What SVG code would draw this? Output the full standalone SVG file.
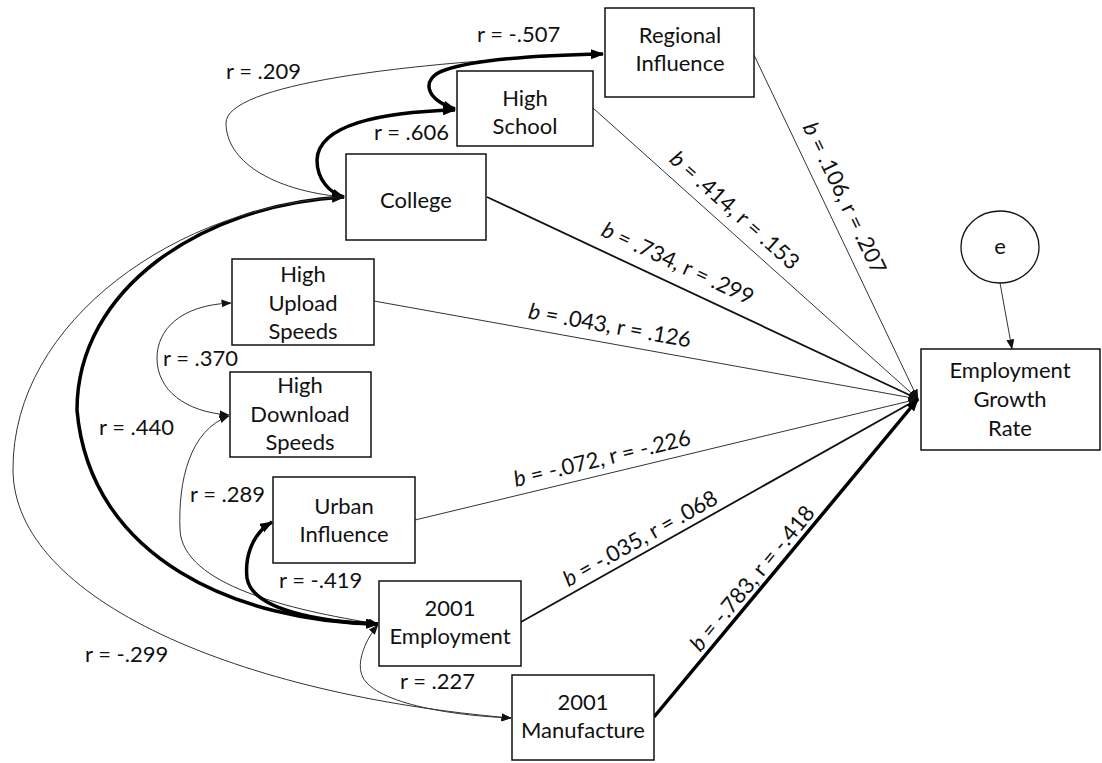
<svg xmlns="http://www.w3.org/2000/svg" width="1102" height="763" viewBox="0 0 1102 763">
<style>
text{font-family:Lato,"Open Sans","Liberation Sans",sans-serif;font-size:22px;fill:#111}
.nt{text-anchor:middle}
.box{fill:#fff;stroke:#111;stroke-width:1.5}
.thin{fill:none;stroke:#333;stroke-width:1}
.med{fill:none;stroke:#111;stroke-width:1.8}
.thick{fill:none;stroke:#000;stroke-width:3.5}
.lbl{text-anchor:middle}
</style>
<defs>
<marker id="aT" viewBox="0 0 10 8" refX="9.5" refY="4" markerWidth="10" markerHeight="8" markerUnits="userSpaceOnUse" orient="auto-start-reverse"><path d="M0,0 L10,4 L0,8 z" fill="#111"/></marker>
<marker id="aK" viewBox="0 0 13 10" refX="12" refY="5" markerWidth="13" markerHeight="10" markerUnits="userSpaceOnUse" orient="auto-start-reverse"><path d="M0,0 L13,5 L0,10 z" fill="#000"/></marker>
</defs>
<rect width="1102" height="763" fill="#fff"/>
<g id="connectors">
<path class="thin" d="M 343,197 C 270,190 226,160 226,123 C 226,85 400,62 603,54" marker-start="url(#aT)" marker-end="url(#aT)"/>
<path class="thick" d="M 455,109 C 425,100 420,78 445,70 C 480,58 550,55 603,54" marker-start="url(#aK)" marker-end="url(#aK)"/>
<path class="thick" d="M 455,110 C 380,112 318,125 317,160 C 317,180 330,193 344,197" marker-start="url(#aK)" marker-end="url(#aK)"/>
<path class="thick" d="M 344,197 C 200,205 77,290 77,410 C 90,560 240,622 378,624" marker-start="url(#aK)" marker-end="url(#aK)"/>
<path class="thin" d="M 344,197 C 180,205 12,320 13,470 C 14,600 240,695 511,718" marker-start="url(#aT)" marker-end="url(#aT)"/>
<path class="thin" d="M 231,303 C 180,305 157,330 157,358 C 157,390 185,412 229,415" marker-start="url(#aT)" marker-end="url(#aT)"/>
<path class="thin" d="M 229,416 C 190,430 178,480 180,530 C 183,585 290,610 378,624" marker-start="url(#aT)" marker-end="url(#aT)"/>
<path class="thick" d="M 272,522 C 250,535 245,560 247,578 C 252,610 320,622 378,624" marker-start="url(#aK)" marker-end="url(#aK)"/>
<path class="thin" d="M 378,625 C 365,640 358,660 361,672 C 366,700 440,715 511,718" marker-start="url(#aT)" marker-end="url(#aT)"/>
<line class="thin" x1="754" y1="55" x2="918" y2="399" marker-end="url(#aT)"/>
<line class="thin" x1="593" y1="108" x2="918" y2="399" marker-end="url(#aT)"/>
<line class="med" x1="487" y1="197" x2="918" y2="399" marker-end="url(#aT)"/>
<line class="thin" x1="374" y1="301" x2="918" y2="399" marker-end="url(#aT)"/>
<line class="thin" x1="415" y1="520" x2="918" y2="399" marker-end="url(#aT)"/>
<line class="med" x1="521" y1="622" x2="918" y2="399" marker-end="url(#aT)"/>
<line class="thick" x1="654" y1="717" x2="918" y2="399" marker-end="url(#aK)"/>
<line class="thin" x1="1000" y1="283" x2="1012" y2="349" marker-end="url(#aT)"/>
<text x="226" y="79">r = .209</text>
<text x="477" y="42">r = -.507</text>
<text x="374" y="140">r = .606</text>
<text x="163" y="366">r = .370</text>
<text x="99" y="435">r = .440</text>
<text x="190" y="502">r = .289</text>
<text x="279" y="588">r = -.419</text>
<text x="85" y="662">r = -.299</text>
<text x="400" y="689">r = .227</text>
<text class="lbl" transform="translate(845,198) rotate(64.5)" x="0" y="8"><tspan font-style="italic">b</tspan> = .106, r = .207</text>
<text class="lbl" transform="translate(735,210) rotate(41.8)" x="0" y="8"><tspan font-style="italic">b</tspan> = .414, r = .153</text>
<text class="lbl" transform="translate(678,263) rotate(25.1)" x="0" y="8"><tspan font-style="italic">b</tspan> = .734, r = .299</text>
<text class="lbl" transform="translate(610,325) rotate(10.2)" x="0" y="8"><tspan font-style="italic">b</tspan> = .043, r = .126</text>
<text class="lbl" transform="translate(602,458) rotate(-13.5)" x="0" y="8"><tspan font-style="italic">b</tspan> = -.072, r = -.226</text>
<text class="lbl" transform="translate(640,538) rotate(-29.3)" x="0" y="8"><tspan font-style="italic">b</tspan> = -.035, r = .068</text>
<text class="lbl" transform="translate(752,578) rotate(-50.3)" x="0" y="8"><tspan font-style="italic">b</tspan> = -.783, r = -.418</text>
</g>
<g id="regional"><rect class="box" x="605" y="8" width="149" height="89"/><text class="nt" x="680" y="43">Regional</text><text class="nt" x="680" y="71">Influence</text></g>
<g id="highschool"><rect class="box" x="457" y="71" width="136" height="75"/><text class="nt" x="525" y="106">High</text><text class="nt" x="525" y="134">School</text></g>
<g id="college"><rect class="box" x="346" y="154" width="140" height="86"/><text class="nt" x="416" y="208">College</text></g>
<g id="upload"><rect class="box" x="232" y="259" width="142" height="86"/><text class="nt" x="303" y="282">High</text><text class="nt" x="303" y="311">Upload</text><text class="nt" x="303" y="339">Speeds</text></g>
<g id="download"><rect class="box" x="230" y="372" width="141" height="85"/><text class="nt" x="300" y="393">High</text><text class="nt" x="300" y="422">Download</text><text class="nt" x="300" y="450">Speeds</text></g>
<g id="urban"><rect class="box" x="273" y="477" width="142" height="86"/><text class="nt" x="344" y="514">Urban</text><text class="nt" x="344" y="542">Influence</text></g>
<g id="employment2001"><rect class="box" x="379" y="581" width="142" height="85"/><text class="nt" x="450" y="616">2001</text><text class="nt" x="450" y="644">Employment</text></g>
<g id="manufacture2001"><rect class="box" x="512" y="675" width="142" height="85"/><text class="nt" x="583" y="710">2001</text><text class="nt" x="583" y="738">Manufacture</text></g>
<g id="egr"><rect class="box" x="921" y="349" width="179" height="101"/><text class="nt" x="1010" y="378">Employment</text><text class="nt" x="1010" y="407">Growth</text><text class="nt" x="1010" y="436">Rate</text></g>
<g id="e"><ellipse cx="1000" cy="247" rx="39" ry="36" fill="#fff" stroke="#111" stroke-width="1.3"/><text class="nt" x="1000" y="254">e</text></g>
</svg>
